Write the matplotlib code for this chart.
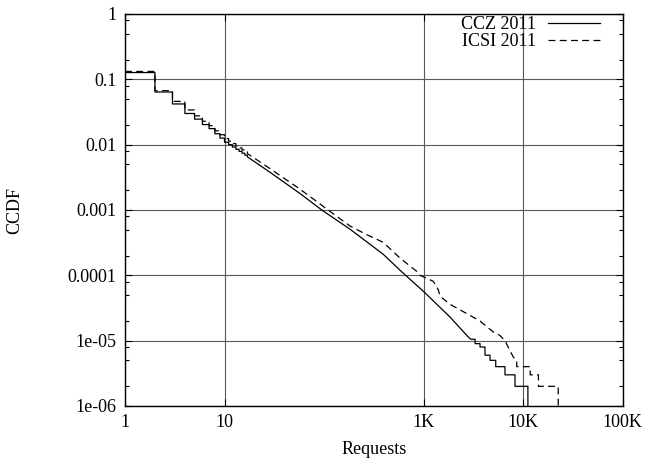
import numpy as np
import matplotlib
matplotlib.use("Agg")
import matplotlib.pyplot as plt
from matplotlib.ticker import FixedLocator, FixedFormatter, NullFormatter

plt.rcParams['font.family'] = ['Liberation Serif', 'DejaVu Serif']
plt.rcParams['font.size'] = 13

# ---------------- data ----------------
# CCZ 2011 : discrete head (steps), smooth middle, stepped tail
ccz_head_x = [1, 2, 3, 4, 5, 6, 7, 8, 9, 10, 11, 12, 13, 14, 15, 16]
ccz_head_y = [0.127, 0.064, 0.042, 0.030, 0.0246, 0.0203, 0.0176, 0.0147,
              0.0126, 0.0109, 0.0100, 0.0092, 0.0085, 0.0079, 0.0074, 0.0069]
ccz_mid_x = [17, 20, 30, 57, 95, 182, 394, 580, 1035, 1846, 2800]
ccz_mid_y = [0.0065, 0.0055, 0.0036, 0.0018, 0.001, 0.00051, 0.00021,
             0.00012, 5.4e-5, 2.3e-5, 1.15e-5]
ccz_tail_x = [3000, 3300, 3700, 4150, 4660, 5320, 6590, 8310]
ccz_tail_y = [1.05e-5, 9e-6, 8e-6, 6e-6, 5e-6, 4e-6, 3e-6, 2e-6]
ccz_last_x = 11200

# ICSI 2011
icsi_head_x = [1, 2, 3, 4, 5, 6, 7, 8, 9, 10, 11, 12, 13, 14, 15, 16]
icsi_head_y = [0.132, 0.067, 0.046, 0.034, 0.0276, 0.0228, 0.0195, 0.0163,
               0.0142, 0.0124, 0.0113, 0.0104, 0.0096, 0.0089, 0.0083, 0.0078]
icsi_mid_x = [17, 20, 30, 57, 110, 182, 268, 394, 580, 855, 922, 1256, 1409,
              1465, 1846, 2716, 3700, 5020, 5870, 6590, 7400, 8000, 8650]
icsi_mid_y = [0.0073, 0.0062, 0.0041, 0.0021, 0.001, 5.7e-4, 4.2e-4, 3.2e-4,
              1.84e-4, 1.15e-4, 1.0e-4, 8.1e-5, 6.0e-5, 4.8e-5, 3.6e-5,
              2.6e-5, 2.0e-5, 1.36e-5, 1.2e-5, 1.0e-5, 7e-6, 5.6e-6, 5e-6]
icsi_tail_x = [8650, 11800, 14300]
icsi_tail_y = [4e-6, 3e-6, 2e-6]
icsi_last_x = 22600

y_floor = 1e-6

x_tick_vals = [1, 10, 1000, 10000, 100000]
x_tick_labels = ['1', '10', '1K', '10K', '100K']
y_tick_vals = [1, 0.1, 0.01, 0.001, 0.0001, 1e-5, 1e-6]
y_tick_labels = ['1', '0.1', '0.01', '0.001', '0.0001', '1e-05', '1e-06']
y_minor_mult = [2, 5, 8]


def steps(xs, ys, x_end):
    px, py = [], []
    for i in range(len(xs)):
        x1 = xs[i + 1] if i + 1 < len(xs) else x_end
        px += [xs[i], x1]
        py += [ys[i], ys[i]]
    return px, py


def build(hx, hy, mx, my, tx, ty, lx):
    ax_, ay_ = steps(hx, hy, mx[0])
    bx_, by_ = list(mx), list(my)
    cx_, cy_ = steps(tx, ty, lx)
    return (ax_ + bx_ + cx_ + [lx], ay_ + by_ + cy_ + [y_floor])


cx, cy = build(ccz_head_x, ccz_head_y, ccz_mid_x, ccz_mid_y,
               ccz_tail_x, ccz_tail_y, ccz_last_x)
ix, iy = build(icsi_head_x, icsi_head_y, icsi_mid_x, icsi_mid_y,
               icsi_tail_x, icsi_tail_y, icsi_last_x)

fig = plt.figure(figsize=(6.45, 4.59), dpi=100)
ax = fig.add_axes([125 / 645, 1 - 406 / 459, (622.5 - 125) / 645, (406 - 14) / 459])

ax.set_xscale('log')
ax.set_yscale('log')
ax.set_xlim(1, 100000)
ax.set_ylim(1e-6, 1)

ax.plot(cx, cy, color='black', lw=0.9, label='CCZ 2011', zorder=3)
ax.plot(ix, iy, color='black', lw=0.9, dashes=(5.5, 3.5), label='ICSI 2011', zorder=3)

ax.xaxis.set_major_locator(FixedLocator(x_tick_vals))
ax.xaxis.set_major_formatter(FixedFormatter(x_tick_labels))
ax.xaxis.set_minor_locator(FixedLocator([]))
ax.yaxis.set_major_locator(FixedLocator(y_tick_vals))
ax.yaxis.set_major_formatter(FixedFormatter(y_tick_labels))
minors = [m * 10.0 ** e for e in range(-6, 0) for m in y_minor_mult]
ax.yaxis.set_minor_locator(FixedLocator(minors))
ax.yaxis.set_minor_formatter(NullFormatter())

ax.tick_params(which='both', direction='in', top=True, right=True, labelsize=13)
ax.tick_params(which='major', length=5, width=0.8, pad=6)
ax.tick_params(which='minor', length=3, width=0.8)

ax.grid(True, which='major', color='0.35', lw=0.8)
for s in ax.spines.values():
    s.set_linewidth(1.0)

ax.set_xlabel('Requests', fontsize=13, labelpad=7)
ax.set_ylabel('CCDF', fontsize=13, labelpad=32)

leg = ax.legend(loc='upper right', frameon=False, markerfirst=False,
                handlelength=2.9, handletextpad=0.65, labelspacing=0.0,
                borderaxespad=0.0, borderpad=0.0,
                bbox_to_anchor=(0.955, 0.995), fontsize=13)

fig.savefig('out.png', dpi=100)
